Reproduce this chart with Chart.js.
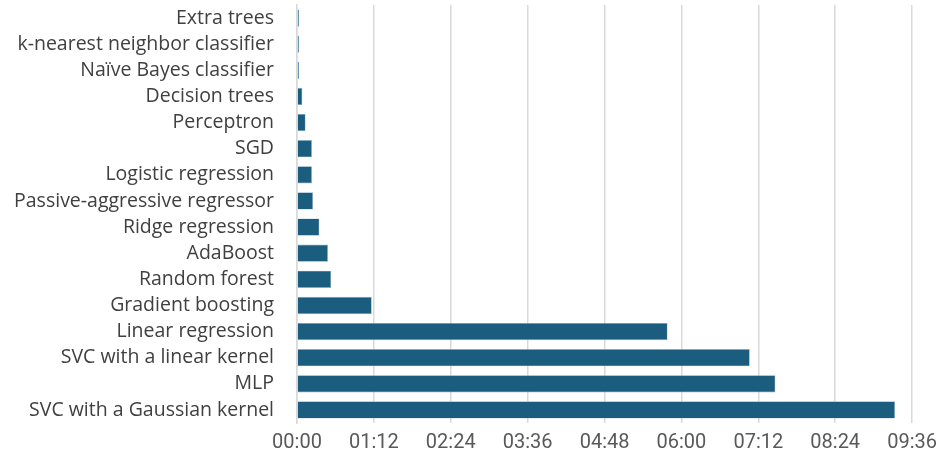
<!DOCTYPE html>
<html>
<head>
<meta charset="utf-8">
<script src="https://cdn.jsdelivr.net/npm/chart.js@4/dist/chart.umd.min.js"></script>
<style>
  html, body { margin: 0; padding: 0; background: #fff; }
  #wrap { width: 945px; height: 459px; }
</style>
</head>
<body>
<div id="wrap"><canvas id="timing-chart"></canvas></div>
<script>
// Training time per model, in seconds
const models = [
  'Extra trees',
  'k-nearest neighbor classifier',
  'Naïve Bayes classifier',
  'Decision trees',
  'Perceptron',
  'SGD',
  'Logistic regression',
  'Passive-aggressive regressor',
  'Ridge regression',
  'AdaBoost',
  'Random forest',
  'Gradient boosting',
  'Linear regression',
  'SVC with a linear kernel',
  'MLP',
  'SVC with a Gaussian kernel',
];
const seconds = [2, 2, 2, 5, 8, 14, 14, 15, 21, 29, 32, 70, 347, 424, 448, 560];
const axisMax = 576;
const axisStep = 72;

// mm:ss label for the time axis
function toClock(value) {
  const m = Math.floor(value / 60);
  const s = Math.round(value % 60);
  return String(m).padStart(2, '0') + ':' + String(s).padStart(2, '0');
}

const canvas = document.getElementById('timing-chart');
new Chart(canvas, {
  type: 'bar',
  data: {
    labels: models,
    datasets: [{
      data: seconds,
      backgroundColor: '#1a5d7f',
      borderColor: '#8fb3c6',
      borderWidth: 0.6,
      barPercentage: 0.66,
      categoryPercentage: 1,
    }],
  },
  options: {
    indexAxis: 'y',
    responsive: true,
    maintainAspectRatio: false,
    animation: false,
    layout: { padding: { top: 5, right: 32, bottom: 0, left: 0 } },
    plugins: {
      legend: { display: false },
      tooltip: { enabled: false },
    },
    scales: {
      x: {
        min: 0,
        max: axisMax,
        border: { display: false },
        grid: { color: '#d9d9d9', lineWidth: 1.5, drawTicks: false },
        ticks: {
          stepSize: axisStep,
          padding: 8,
          color: '#595959',
          font: { family: 'Roboto', size: 20 },
          callback: (v) => toClock(v),
        },
        afterFit: (scale) => { scale.height = 36; },
      },
      y: {
        border: { display: true, color: '#d9d9d9', width: 1.5 },
        grid: { display: false, drawTicks: false },
        ticks: {
          padding: 23,
          color: '#404040',
          font: { family: 'Open Sans', size: 19.5 },
          autoSkip: false,
        },
        afterFit: (scale) => {
          // fixed label column; drop the extra top/bottom room the tick padding adds
          scale.width = 297;
          scale.paddingTop = 0;
          scale.paddingBottom = 0;
        },
      },
    },
  },
});
</script>
</body>
</html>
